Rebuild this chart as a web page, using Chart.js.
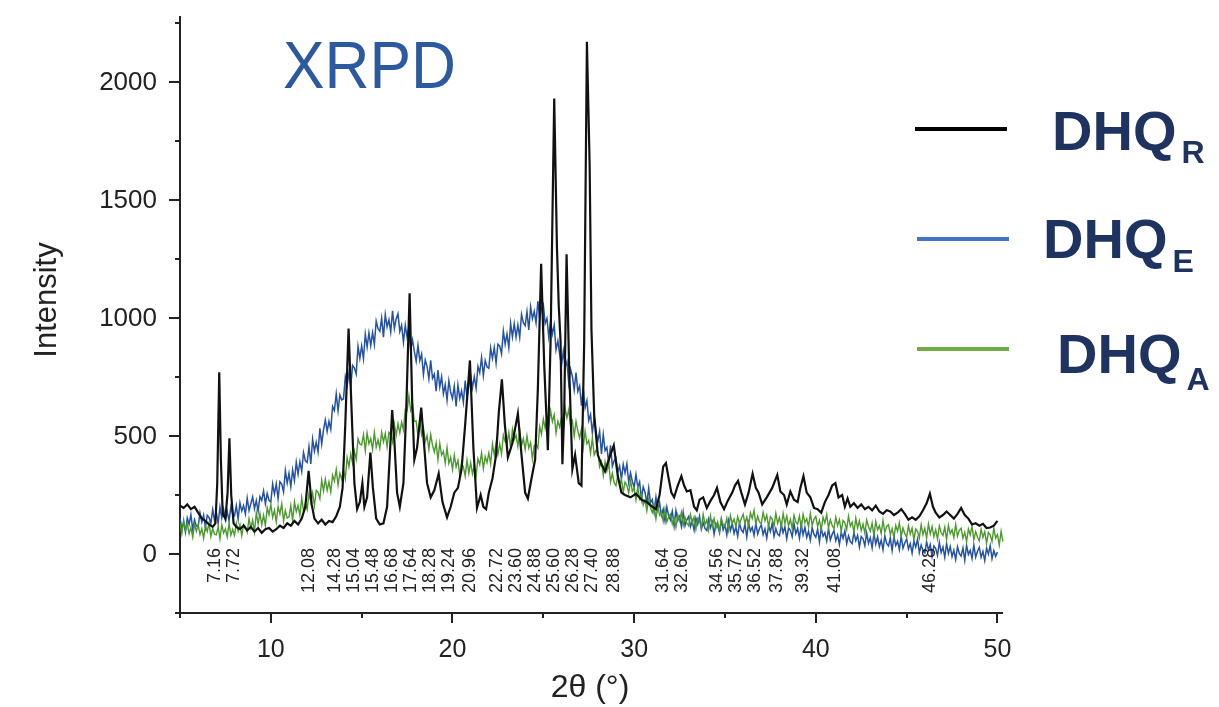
<!DOCTYPE html>
<html>
<head>
<meta charset="utf-8">
<script src="https://cdn.jsdelivr.net/npm/chart.js@4.4.1/dist/chart.umd.min.js"></script>
<style>
html, body { margin: 0; padding: 0; background: #fff; }
#wrap { width: 1219px; height: 707px; position: relative; }
</style>
</head>
<body>
<div id="wrap"><canvas id="xrpd"></canvas></div>
<script>
// DHQ_R: crystalline pattern, read as (2theta, intensity) pairs
const rTheta = [
  5.0,5.2,5.4,5.6,5.8,6.0,6.2,6.4,6.6,6.8,6.95,7.05,7.16,7.25,7.35,7.5,7.62,7.72,7.82,7.95,
  8.1,8.3,8.5,8.7,8.9,9.1,9.3,9.5,9.7,9.9,10.1,10.3,10.5,10.7,10.9,11.1,11.3,11.5,11.7,11.9,
  12.08,12.25,12.4,12.6,12.8,13.0,13.2,13.4,13.6,13.8,13.95,14.1,14.28,14.45,14.6,14.75,14.9,15.04,15.15,15.3,
  15.48,15.62,15.8,16.0,16.2,16.4,16.55,16.68,16.8,16.95,17.1,17.3,17.45,17.64,17.78,17.9,18.05,18.28,18.45,18.6,
  18.8,19.0,19.24,19.45,19.7,19.9,20.1,20.3,20.5,20.7,20.96,21.15,21.35,21.55,21.7,21.85,22.0,22.2,22.4,22.55,
  22.72,22.88,23.05,23.3,23.6,23.8,24.0,24.15,24.35,24.55,24.7,24.88,25.05,25.25,25.4,25.6,25.75,25.85,25.95,26.05,
  26.15,26.28,26.42,26.6,26.75,26.95,27.1,27.25,27.4,27.55,27.65,27.8,28.0,28.2,28.4,28.6,28.88,29.1,29.3,29.5,
  29.8,30.1,30.4,30.7,31.0,31.2,31.4,31.6,31.75,31.9,32.05,32.2,32.4,32.6,32.75,32.9,33.1,33.3,33.45,33.6,
  33.8,34.0,34.2,34.4,34.56,34.75,34.95,35.15,35.4,35.55,35.72,35.9,36.1,36.3,36.52,36.7,36.85,37.05,37.3,37.6,
  37.88,38.05,38.25,38.4,38.6,38.8,39.0,39.15,39.32,39.5,39.7,39.9,40.1,40.3,40.5,40.7,40.9,41.08,41.25,41.45,
  41.6,41.75,41.9,42.1,42.3,42.5,42.7,42.9,43.1,43.3,43.5,43.7,43.9,44.1,44.3,44.5,44.7,44.9,45.1,45.3,
  45.5,45.7,45.9,46.1,46.28,46.45,46.6,46.8,47.0,47.2,47.4,47.6,47.8,48.0,48.2,48.4,48.6,48.8,49.0,49.2,
  49.4,49.6,49.8,50.0
];
const rIntensity = [
  205,195,210,190,200,175,150,140,125,115,130,300,770,400,170,150,260,490,250,130,
  115,105,120,100,115,95,110,90,105,110,95,105,120,110,130,120,140,125,150,200,
  352,210,150,130,145,125,140,135,160,200,280,550,955,600,300,190,220,300,200,240,
  430,280,150,125,130,200,420,610,480,260,200,300,600,1105,650,400,450,620,450,300,
  240,270,340,220,155,200,260,280,360,550,820,450,195,250,200,190,260,320,420,600,
  740,550,410,470,595,420,260,235,320,400,700,1230,800,440,900,1930,1300,1050,900,380,
  600,1270,800,360,420,300,290,900,2170,1650,950,590,420,380,350,400,460,330,260,250,
  240,255,230,220,200,190,250,370,385,320,260,240,290,330,290,265,270,200,185,230,
  240,195,225,250,280,220,190,225,260,290,310,260,210,260,340,280,260,210,240,280,
  335,265,250,210,265,230,220,280,330,260,240,195,190,175,220,250,290,300,240,250,
  200,235,200,215,195,210,190,200,185,205,180,170,185,180,165,175,190,170,145,155,
  145,160,185,215,255,200,175,155,165,180,165,150,170,195,165,150,125,130,120,128,
  110,112,120,140
];

// DHQ_E and DHQ_A: sampled every 0.1 deg from 5.0 deg
const gridStart = 5.0;
const gridStep = 0.1;
const eIntensity = [
  153,106,135,92,153,126,167,104,145,118,
  116,174,135,165,112,164,154,131,188,142,
  176,130,199,152,190,144,180,140,200,170,
  162,205,148,217,182,205,170,237,184,213,
  242,192,227,181,243,227,267,213,256,227,
  220,297,254,297,234,306,296,263,353,300,
  342,285,356,311,389,338,391,350,430,395,
  388,455,382,487,436,474,432,532,466,526,
  568,519,562,528,625,608,679,607,674,653,
  657,751,713,768,711,799,788,762,880,829,
  882,827,932,877,937,883,938,888,987,955,
  943,1000,919,1015,962,992,940,1030,955,996,
  1018,942,969,897,969,919,963,864,907,858,
  817,884,819,847,760,822,795,742,820,744,
  762,690,779,707,751,679,718,651,734,685,
  658,711,625,716,659,691,642,735,663,711,
  758,704,752,702,795,768,833,756,820,793,
  787,873,828,875,808,889,881,848,945,889,
  932,874,977,919,976,919,971,918,1015,980,
  968,1027,949,1047,997,1028,979,1071,999,1041,
  1058,976,998,920,986,932,970,865,903,848,
  797,860,791,815,724,783,752,695,769,689,
  712,628,703,619,650,565,591,512,581,520,
  478,520,424,506,438,452,385,460,371,396,
  407,347,373,318,380,343,382,304,344,307,
  283,337,283,305,234,284,261,216,279,217,
  231,177,240,186,217,163,190,140,199,161,
  144,181,119,184,142,159,117,178,120,145,
  159,116,140,101,152,126,160,105,133,108,
  99,147,111,135,84,129,118,90,145,102,
  124,81,141,99,129,87,115,75,131,102,
  91,126,72,132,97,113,79,131,84,108,
  124,82,107,67,120,95,131,75,108,84,
  77,126,90,115,65,111,100,73,129,86,
  109,66,125,81,113,70,97,58,112,83,
  71,105,51,110,75,90,55,109,59,83,
  99,56,80,41,92,66,98,44,77,52,
  44,92,56,79,29,74,64,35,89,46,
  69,26,86,42,73,31,59,18,77,45,
  34,68,14,74,36,54,19,76,24,48,
  64,21,44,4,55,29,63,6,38,13,
  4,52,16,40,-11,34,23,-6,49,6,
  29,-14,45,2,32,-11,16,-24,31,2,
  -9,26,-27,37,-2,15,-19,37,-13,12,
  28,-14,11,-28,25,0,36,-20,14,-10,
  8
];
const aIntensity = [
  129,85,144,100,129,86,112,71,126,96,
  124,82,107,67,120,95,131,74,108,84,
  81,116,64,124,89,107,73,129,80,105,
  79,130,97,125,77,125,117,92,150,110,
  143,94,175,127,172,123,164,120,197,166,
  210,155,185,135,201,170,213,140,184,152,
  157,205,142,221,179,205,163,238,180,214,
  188,258,220,259,204,269,262,234,313,267,
  317,269,305,262,334,309,358,292,342,317,
  358,318,409,370,425,385,436,401,488,466,
  462,506,438,513,467,489,443,515,453,484,
  448,515,475,510,453,515,506,474,551,502,
  552,513,559,525,612,606,670,608,633,562,
  563,500,567,505,536,474,501,443,506,461,
  432,471,399,469,419,435,385,451,384,409,
  358,418,369,397,332,386,369,330,398,342,
  387,339,375,332,404,379,428,362,412,387,
  428,382,466,420,468,422,466,424,504,476,
  467,515,450,528,485,503,456,525,460,489,
  443,501,449,472,402,458,464,448,540,507,
  572,533,579,545,607,561,590,513,563,537,
  578,534,620,577,612,543,564,500,562,521,
  492,529,453,521,467,481,427,491,420,439,
  432,369,391,333,391,352,387,306,342,302,
  289,334,295,316,262,305,291,259,311,265,
  279,230,283,234,257,208,229,183,232,196,
  176,207,149,205,165,178,139,191,136,157,
  169,127,152,113,166,141,177,121,155,131,
  119,167,132,156,105,151,141,112,168,125,
  144,102,162,119,150,108,136,96,152,124,
  116,152,101,163,129,148,116,158,128,150,
  169,129,156,119,174,151,185,127,160,136,
  129,177,141,165,114,158,147,118,173,130,
  154,112,172,130,161,119,147,108,164,136,
  126,161,108,168,133,150,116,172,122,147,
  159,117,142,103,156,131,167,111,145,121,
  107,156,121,146,96,142,132,104,160,118,
  134,92,152,110,141,99,127,88,144,116,
  96,131,78,138,103,120,86,142,92,117,
  124,82,107,68,121,96,132,76,110,86,
  71,120,85,110,60,106,96,68,124,82,
  109,67,127,85,116,74,102,63,119,91,
  79,114,61,121,86,103,69,125,75,100,
  109,67,92,53,106,81,117,61,95,71,
  56,105,70,95,45,91,81,53,109,67,
  82,38,96,52,81
];

const peakLabels = ['7.16','7.72','12.08','14.28','15.04','15.48','16.68','17.64','18.28','19.24',
  '20.96','22.72','23.60','24.88','25.60','26.28','27.40','28.88','31.64','32.60',
  '34.56','35.72','36.52','37.88','39.32','41.08','46.28'];
const seriesNames = ['DHQ', 'DHQ', 'DHQ'];
const seriesSubs = ['R', 'E', 'A'];
// axis ticks: labelled ones are the multiples of 10 (x) and 500 (y)
const xTickValues = [5, 10, 15, 20, 25, 30, 35, 40, 45, 50];
const yTickValues = [-250, 0, 250, 500, 750, 1000, 1250, 1500, 1750, 2000, 2250];

function pairPoints(xs, ys) {
  return ys.map((y, i) => ({ x: xs[i], y: y }));
}
function gridPoints(ys) {
  return ys.map((y, i) => ({ x: Math.round((gridStart + i * gridStep) * 100) / 100, y: y }));
}

// push crowded peak labels apart, keeping each cluster centred on its peaks
function spreadLabels(ideal, gap) {
  let groups = ideal.map(p => ({ n: 1, sum: p, start: p }));
  let merged = true;
  while (merged) {
    merged = false;
    for (let i = 0; i < groups.length - 1; i++) {
      const a = groups[i], b = groups[i + 1];
      if (a.start + a.n * gap > b.start) {
        const n = a.n + b.n, sum = a.sum + b.sum;
        groups.splice(i, 2, { n: n, sum: sum, start: sum / n - (n - 1) * gap / 2 });
        merged = true;
        break;
      }
    }
  }
  const out = [];
  groups.forEach(g => { for (let k = 0; k < g.n; k++) out.push(g.start + k * gap); });
  return out;
}

const FONT = '"Liberation Sans", Arial, sans-serif';
const legendColors = ['#000000', '#4472c4', '#70ad47'];

const decor = {
  id: 'decor',
  afterDraw(chart) {
    const ctx = chart.ctx;
    const xs = chart.scales.x, ys = chart.scales.y;
    const area = chart.chartArea;
    ctx.save();

    // tick marks, major and minor
    ctx.strokeStyle = '#222';
    ctx.lineWidth = 2;
    ys.ticks.forEach(t => {
      const py = Math.round(ys.getPixelForValue(t.value));
      const len = t.value % 500 === 0 ? 11 : 5;
      ctx.beginPath();
      ctx.moveTo(area.left, py);
      ctx.lineTo(area.left - len, py);
      ctx.stroke();
    });
    xs.ticks.forEach(t => {
      const px = Math.round(xs.getPixelForValue(t.value));
      const len = t.value % 10 === 0 ? 10 : 5;
      ctx.beginPath();
      ctx.moveTo(px, area.bottom);
      ctx.lineTo(px, area.bottom + len);
      ctx.stroke();
    });

    // y tick labels
    ctx.fillStyle = '#222';
    ctx.font = '26px ' + FONT;
    ctx.textAlign = 'right';
    ctx.textBaseline = 'middle';
    ys.ticks.forEach(t => {
      if (t.value % 500 !== 0) return;
      ctx.fillText(String(t.value), area.left - 23, ys.getPixelForValue(t.value) + 1);
    });

    // peak positions, rotated
    ctx.font = '18px ' + FONT;
    ctx.textAlign = 'right';
    ctx.textBaseline = 'middle';
    const spots = spreadLabels(peakLabels.map(s => xs.getPixelForValue(parseFloat(s))), 19);
    peakLabels.forEach((s, i) => {
      ctx.save();
      ctx.translate(spots[i], 548);
      ctx.rotate(-Math.PI / 2);
      ctx.fillText(s, 0, 0);
      ctx.restore();
    });

    // axis titles
    ctx.font = '31px ' + FONT;
    ctx.textAlign = 'center';
    ctx.textBaseline = 'alphabetic';
    ctx.save();
    ctx.translate(56, 300);
    ctx.rotate(-Math.PI / 2);
    ctx.fillText('Intensity', 0, 0);
    ctx.restore();
    ctx.font = '32px ' + FONT;
    ctx.textBaseline = 'middle';
    ctx.fillText('2θ (°)', 590, 688);

    // title
    ctx.save();
    ctx.fillStyle = '#2c5aa0';
    ctx.font = '67px ' + FONT;
    ctx.textAlign = 'left';
    ctx.textBaseline = 'alphabetic';
    ctx.translate(283, 88);
    ctx.scale(0.93, 1);
    ctx.fillText('XRPD', 0, 0);
    ctx.restore();

    // legend
    const rows = [
      { y: 129, x0: 915, tx: 1052, base: 150, sub: 163 },
      { y: 239, x0: 917, tx: 1043, base: 258, sub: 272 },
      { y: 349, x0: 917, tx: 1057, base: 373, sub: 390 }
    ];
    ctx.textAlign = 'left';
    ctx.textBaseline = 'alphabetic';
    rows.forEach((r, i) => {
      ctx.strokeStyle = legendColors[i];
      ctx.lineWidth = 4;
      ctx.beginPath();
      ctx.moveTo(r.x0, r.y);
      ctx.lineTo(r.x0 + 92, r.y);
      ctx.stroke();
      ctx.fillStyle = '#1f3361';
      ctx.font = 'bold 56px ' + FONT;
      ctx.fillText(seriesNames[i], r.tx, r.base);
      const w = ctx.measureText(seriesNames[i]).width;
      ctx.font = 'bold 32px ' + FONT;
      ctx.fillText(seriesSubs[i], r.tx + w + 5, r.sub);
    });

    ctx.restore();
  }
};

new Chart(document.getElementById('xrpd'), {
  type: 'line',
  data: {
    datasets: [
      {
        label: 'DHQR',
        data: pairPoints(rTheta, rIntensity),
        borderColor: '#111111',
        borderWidth: 2.2,
        pointRadius: 0,
        tension: 0
      },
      {
        label: 'DHQA',
        data: gridPoints(aIntensity),
        borderColor: '#4c9a2e',
        borderWidth: 1.4,
        pointRadius: 0,
        tension: 0,
        clip: { left: 0, top: 0, right: 8, bottom: 0 }
      },
      {
        label: 'DHQE',
        data: gridPoints(eIntensity),
        borderColor: '#2453a6',
        borderWidth: 1.5,
        pointRadius: 0,
        tension: 0
      }
    ]
  },
  options: {
    responsive: true,
    maintainAspectRatio: false,
    animation: false,
    layout: { padding: { left: 0, top: 17, right: 217, bottom: 0 } },
    plugins: {
      legend: { display: false },
      tooltip: { enabled: false }
    },
    scales: {
      x: {
        type: 'linear',
        min: 5,
        max: 50.25,
        grid: { display: false, drawTicks: false },
        border: { display: true, color: '#222', width: 2 },
        afterBuildTicks: s => { s.ticks = xTickValues.map(v => ({ value: v })); },
        ticks: {
          autoSkip: false,
          maxRotation: 0,
          padding: 22,
          color: '#222',
          font: { family: FONT, size: 25 },
          callback: v => (v % 10 === 0 ? String(v) : '')
        },
        afterFit: s => { s.height = 94; }
      },
      y: {
        min: -250,
        max: 2275,
        grid: { display: false, drawTicks: false },
        border: { display: true, color: '#222', width: 2 },
        afterBuildTicks: s => { s.ticks = yTickValues.map(v => ({ value: v })); },
        ticks: {
          display: false,
          autoSkip: false
        },
        afterFit: s => { s.width = 180; }
      }
    }
  },
  plugins: [decor]
});
</script>
</body>
</html>
